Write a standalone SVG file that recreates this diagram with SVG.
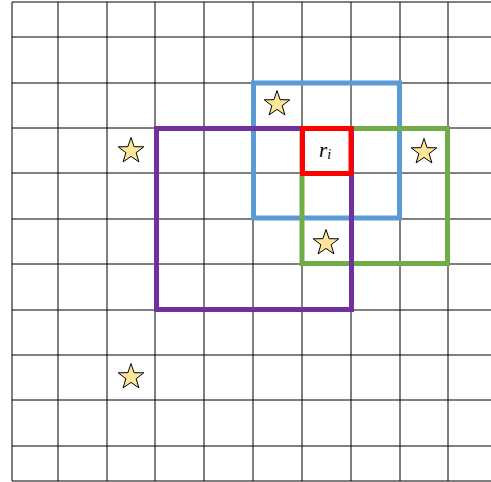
<svg xmlns="http://www.w3.org/2000/svg" width="491" height="482" viewBox="0 0 491 482">
<defs>
<style>
.grid line{stroke:#000;stroke-width:1}
.box{fill:none;stroke-width:5}
.star{fill:#FFE699;stroke:#000;stroke-width:1}
</style>
<polygon id="star" points="0,-13.5 3.1,-4.3 12.8,-4.2 5.1,1.7 7.9,10.9 0,5.4 -7.9,10.9 -5.1,1.7 -12.8,-4.2 -3.1,-4.3"/>
</defs>
<rect width="491" height="482" fill="#fff"/>
<g id="grid" class="grid">
<line x1="12" y1="2" x2="12" y2="481"/>
<line x1="58" y1="2" x2="58" y2="481"/>
<line x1="107" y1="2" x2="107" y2="481"/>
<line x1="155" y1="2" x2="155" y2="481"/>
<line x1="204" y1="2" x2="204" y2="481"/>
<line x1="253" y1="2" x2="253" y2="481"/>
<line x1="302" y1="2" x2="302" y2="481"/>
<line x1="351" y1="2" x2="351" y2="481"/>
<line x1="400" y1="2" x2="400" y2="481"/>
<line x1="448" y1="2" x2="448" y2="481"/>
<line x1="12" y1="2" x2="491" y2="2"/>
<line x1="12" y1="37" x2="491" y2="37"/>
<line x1="12" y1="83" x2="491" y2="83"/>
<line x1="12" y1="128" x2="491" y2="128"/>
<line x1="12" y1="173" x2="491" y2="173"/>
<line x1="12" y1="219" x2="491" y2="219"/>
<line x1="12" y1="264" x2="491" y2="264"/>
<line x1="12" y1="310" x2="491" y2="310"/>
<line x1="12" y1="355" x2="491" y2="355"/>
<line x1="12" y1="400" x2="491" y2="400"/>
<line x1="12" y1="446" x2="491" y2="446"/>
<line x1="12" y1="481" x2="491" y2="481"/>
</g>
<g id="blue-box"><rect class="box" x="253.5" y="83" width="146" height="135" stroke="#5B9BD5"/></g>
<g id="green-box"><rect class="box" x="302" y="128.5" width="145.5" height="135" stroke="#70AD47"/></g>
<g id="purple-box"><rect class="box" x="156.5" y="128.5" width="195" height="181" stroke="#7030A0"/></g>
<g id="red-box"><rect class="box" x="302.5" y="128.5" width="48.5" height="45" stroke="#FF0000"/></g>
<g id="label"><text x="319" y="157" font-family="Liberation Serif, serif" font-style="italic" font-size="21" fill="#000">r<tspan font-size="14" dy="2">i</tspan></text></g>
<g id="stars">
<use href="#star" class="star" x="131" y="151"/>
<use href="#star" class="star" x="277" y="104"/>
<use href="#star" class="star" x="424" y="152"/>
<use href="#star" class="star" x="326" y="243"/>
<use href="#star" class="star" x="131" y="377"/>
</g>
</svg>
